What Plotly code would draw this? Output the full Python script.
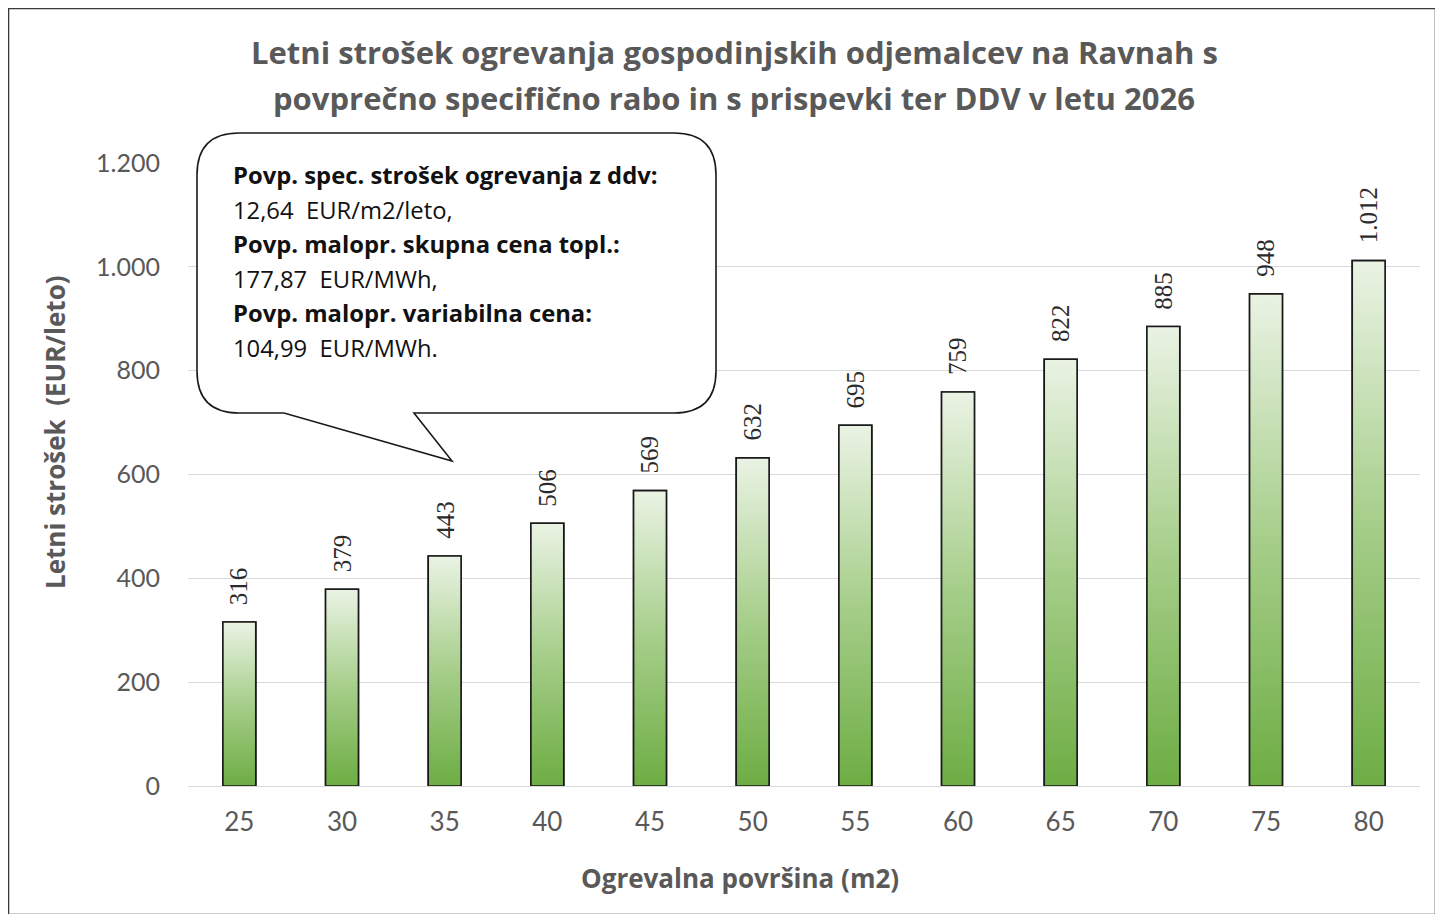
import plotly.graph_objects as go

# ---- data ----
areas = ["25", "30", "35", "40", "45", "50", "55", "60", "65", "70", "75", "80"]
costs = [316, 379, 443, 506, 569, 632, 695, 759, 822, 885, 948, 1012]
y_ticks = [0, 200, 400, 600, 800, 1000, 1200]
title_lines = [
    "Letni strošek ogrevanja gospodinjskih odjemalcev na Ravnah s",
    "povprečno specifično rabo in s prispevki ter DDV v letu 2026",
]
callout_lines = [
    ("Povp. spec. strošek ogrevanja z ddv:", True),
    ("12,64  EUR/m2/leto,", False),
    ("Povp. malopr. skupna cena topl.:", True),
    ("177,87  EUR/MWh,", False),
    ("Povp. malopr. variabilna cena:", True),
    ("104,99  EUR/MWh.", False),
]
x_title = "Ogrevalna površina (m2)"
y_title = "Letni strošek  (EUR/leto)"

# ---- geometry (page px -> paper coords) ----
FIG_W, FIG_H = 1427, 906          # page body has 8px margin
OFF = 8
PL, PR, PT, PB = 188, 1420, 163, 786   # plot area in page px
PW, PH = PR - PL, PB - PT


def px(x):
    return (x - PL) / PW


def py(y):
    return (PB - y) / PH


BAR_W = 0.32
idx = list(range(len(areas)))
FONT = "Lato, 'Open Sans', sans-serif"
WIDE = "'Open Sans', Lato, sans-serif"
GRAY = "#595959"

fig = go.Figure()

# gradient-filled bars
for i, v in zip(idx, costs):
    fig.add_trace(go.Scatter(
        x=[i - BAR_W / 2, i + BAR_W / 2, i + BAR_W / 2, i - BAR_W / 2, i - BAR_W / 2],
        y=[0, 0, v, v, 0],
        mode="lines",
        line=dict(color="#1a1a1a", width=1.6),
        fill="toself",
        fillgradient=dict(type="vertical",
                          colorscale=[[0, "#6DAD43"], [0.5, "#A6CE8A"], [1, "#EAF3E4"]]),
        hoverinfo="skip",
        showlegend=False,
    ))

# bar outlines (real bar trace)
fig.add_trace(go.Bar(
    x=idx, y=costs, width=BAR_W,
    marker=dict(color="rgba(0,0,0,0)", line=dict(color="#1a1a1a", width=1.6)),
    showlegend=False,
))

annotations = []
# value labels
for i, v in zip(idx, costs):
    annotations.append(dict(
        x=i, y=v, xref="x", yref="y", text=f"{v:,}".replace(",", "."),
        textangle=-90, showarrow=False, yanchor="bottom", xanchor="center",
        yshift=15, font=dict(family="'Liberation Serif', serif", size=25, color="#2b2b2b"),
    ))

# title lines
for t, yy in zip(title_lines, [52, 98]):
    annotations.append(dict(
        x=px(734), y=py(yy), xref="paper", yref="paper", text=f"<b>{t}</b>",
        showarrow=False, xanchor="center", yanchor="middle",
        font=dict(family=WIDE, size=31, color=GRAY),
    ))

# callout text
for k, (t, b) in enumerate(callout_lines):
    annotations.append(dict(
        x=px(231), y=py(175 + k * 34.6), xref="paper", yref="paper",
        text=f"<b>{t}</b>" if b else t, showarrow=False,
        xanchor="left", yanchor="middle",
        font=dict(family=WIDE, size=23.8, color="#111111"),
    ))

# axis titles
annotations.append(dict(
    x=px(740), y=py(878), xref="paper", yref="paper", text=f"<b>{x_title}</b>",
    showarrow=False, xanchor="center", yanchor="middle",
    font=dict(family=WIDE, size=26, color=GRAY),
))
annotations.append(dict(
    x=px(55), y=py(432), xref="paper", yref="paper", text=f"<b>{y_title}</b>",
    showarrow=False, xanchor="center", yanchor="middle", textangle=-90,
    font=dict(family=WIDE, size=26, color=GRAY),
))

# callout shape path (paper coords)
L, R, T, B, r = 197, 716, 133, 413, 42
tail = [(284, 413), (452, 461), (414, 413)]


def P(x, y):
    return f"{px(x):.5f},{py(y):.5f}"


path = (
    f"M {P(L + r, T)} L {P(R - r, T)} Q {P(R, T)} {P(R, T + r)} "
    f"L {P(R, B - r)} Q {P(R, B)} {P(R - r, B)} "
    f"L {P(*tail[2])} L {P(*tail[1])} L {P(*tail[0])} "
    f"L {P(L + r, B)} Q {P(L, B)} {P(L, B - r)} "
    f"L {P(L, T + r)} Q {P(L, T)} {P(L + r, T)} Z"
)

shapes = [
    dict(type="path", xref="paper", yref="paper", path=path,
         line=dict(color="#1a1a1a", width=1.6), fillcolor="white", layer="above"),
    dict(type="rect", xref="paper", yref="paper",
         x0=px(8.5), x1=px(1435.5), y0=py(914.5), y1=py(8.5),
         line=dict(color="#3a3a3a", width=1.6), fillcolor="rgba(0,0,0,0)", layer="above"),
]

fig.update_layout(
    width=FIG_W, height=FIG_H,
    margin=dict(l=PL - OFF, r=FIG_W - (PR - OFF), t=PT - OFF, b=FIG_H - (PB - OFF), pad=0),
    paper_bgcolor="white", plot_bgcolor="white",
    separators=",.",
    showlegend=False,
    annotations=annotations,
    shapes=shapes,
    xaxis=dict(range=[-0.5, len(areas) - 0.5], tickvals=idx, ticktext=areas,
               showgrid=False, zeroline=False, showline=False, ticks="",
               ticklabelstandoff=18,
               tickfont=dict(family=FONT, size=26, color=GRAY), fixedrange=True),
    yaxis=dict(range=[0, 1200], tickvals=y_ticks, tickformat=",d",
               showgrid=True, gridcolor="#D9D9D9", gridwidth=1.2,
               zeroline=True, zerolinecolor="#D9D9D9", zerolinewidth=1.2,
               showline=False, ticks="", ticklabelstandoff=27,
               tickfont=dict(family=FONT, size=25, color=GRAY), fixedrange=True),
)

fig.write_html("out.html")
